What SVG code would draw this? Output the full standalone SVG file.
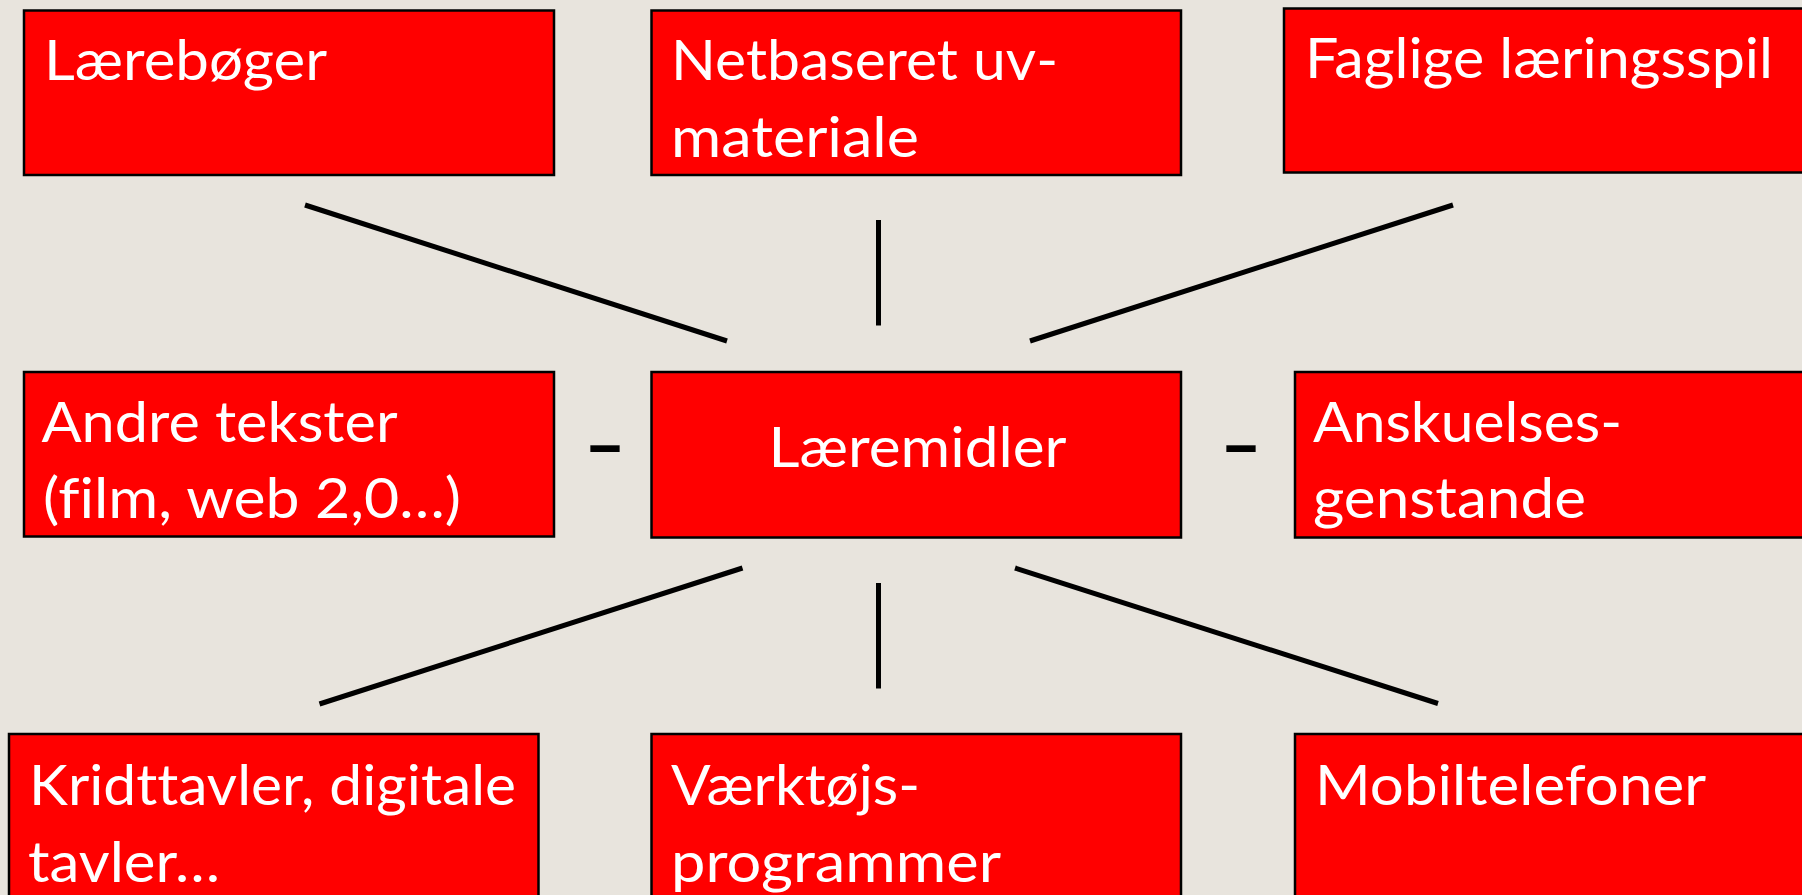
<svg xmlns="http://www.w3.org/2000/svg" width="1802" height="895" viewBox="0 0 1802 895">
<style>
.box{fill:#FF0000;stroke:#000;stroke-width:2.5}
.t{font-family:Lato,"Noto Sans","Liberation Sans",sans-serif;font-size:56px;fill:#fff;font-variant-ligatures:none}
.d{font-family:Lato,"Noto Sans","Liberation Sans",sans-serif;font-size:76px;font-weight:bold;fill:#000}
.c line{stroke:#000;stroke-width:5;fill:none}
</style>
<rect x="0" y="0" width="1802" height="895" fill="#E8E4DD"/>
<g class="c" id="connectors">
<line x1="305" y1="205" x2="727" y2="341"/>
<line x1="878.5" y1="220" x2="878.5" y2="325.5"/>
<line x1="1453" y1="205" x2="1030" y2="341"/>
<line x1="742.5" y1="568" x2="319.5" y2="704"/>
<line x1="878.5" y1="583" x2="878.5" y2="688.5"/>
<line x1="1015" y1="568" x2="1438" y2="703.5"/>
</g>
<g id="n-laereboger"><rect class="box" x="24" y="10.5" width="530" height="164.5"/><text class="t" x="44" y="80" textLength="283" lengthAdjust="spacingAndGlyphs">Lærebøger</text></g>
<g id="n-netbaseret"><rect class="box" x="651.5" y="10.5" width="529.5" height="164.5"/><text class="t" x="671" y="80" textLength="387" lengthAdjust="spacingAndGlyphs">Netbaseret uv-</text><text class="t" x="671" y="157" textLength="248" lengthAdjust="spacingAndGlyphs">materiale</text></g>
<g id="n-faglige"><rect class="box" x="1284" y="8.5" width="530" height="164"/><text class="t" x="1305" y="78.3" textLength="468" lengthAdjust="spacingAndGlyphs">Faglige læringsspil</text></g>
<g id="n-andre"><rect class="box" x="24" y="372" width="530" height="164.5"/><text class="t" x="41.5" y="441.7" textLength="356" lengthAdjust="spacingAndGlyphs">Andre tekster</text><text class="t" x="43" y="518" textLength="418" lengthAdjust="spacingAndGlyphs">(film, web 2,0…)</text></g>
<g id="n-laeremidler"><rect class="box" x="651.5" y="372" width="529.5" height="165.5"/><text class="t" x="768.5" y="466.7" textLength="298" lengthAdjust="spacingAndGlyphs">Læremidler</text></g>
<g id="n-anskuelses"><rect class="box" x="1295" y="372" width="520" height="165.5"/><text class="t" x="1313" y="441.7" textLength="309" lengthAdjust="spacingAndGlyphs">Anskuelses-</text><text class="t" x="1313" y="518" textLength="273" lengthAdjust="spacingAndGlyphs">genstande</text></g>
<g id="n-kridttavler"><rect class="box" x="9" y="734" width="529.5" height="175"/><text class="t" x="29" y="805" textLength="487" lengthAdjust="spacingAndGlyphs">Kridttavler, digitale</text><text class="t" x="28" y="881.7" textLength="192" lengthAdjust="spacingAndGlyphs">tavler…</text></g>
<g id="n-vaerktojs"><rect class="box" x="651.5" y="734" width="529.5" height="175"/><text class="t" x="671" y="805" textLength="249" lengthAdjust="spacingAndGlyphs">Værktøjs-</text><text class="t" x="671" y="881.7" textLength="330" lengthAdjust="spacingAndGlyphs">programmer</text></g>
<g id="n-mobil"><rect class="box" x="1295" y="734" width="520" height="175"/><text class="t" x="1315" y="805" textLength="391" lengthAdjust="spacingAndGlyphs">Mobiltelefoner</text></g>
<g id="dashes"><text class="d" x="584" y="471.5" textLength="42" lengthAdjust="spacingAndGlyphs">–</text><text class="d" x="1220" y="471.5" textLength="42" lengthAdjust="spacingAndGlyphs">–</text></g>
</svg>
